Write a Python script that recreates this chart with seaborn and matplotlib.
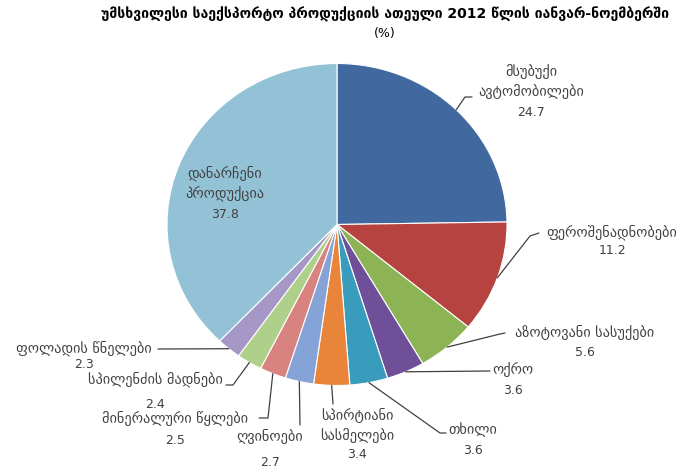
import matplotlib
matplotlib.use("Agg")
import matplotlib.pyplot as plt
from matplotlib.lines import Line2D
import numpy as np
import seaborn as sns

# ---------------- data ----------------
products = ["მსუბუქი\nავტომობილები", "ფეროშენადნობები", "აზოტოვანი სასუქები", "ოქრო",
            "თხილი", "სპირტიანი\nსასმელები", "ღვინოები", "მინერალური წყლები",
            "სპილენძის მადნები", "ფოლადის წნელები", "დანარჩენი\nპროდუქცია"]
shares = [24.7, 11.2, 5.6, 3.6, 3.6, 3.4, 2.7, 2.5, 2.4, 2.3, 37.8]
share_labels = ["24.7", "11.2", "5.6", "3.6", "3.6", "3.4", "2.7", "2.5", "2.4", "2.3", "37.8"]
slice_colors = ["#42699f", "#b6433f", "#8db454", "#6e4f98", "#3a9cbc", "#e8853a",
                "#85a3d6", "#d8837f", "#afd08a", "#a597c6", "#93c2d6"]

title = "უმსხვილესი საექსპორტო პროდუქციის ათეული 2012 წლის იანვარ-ნოემბერში"

sns.set_theme(style="white")
plt.rcParams["font.family"] = ["DejaVu Sans"]

W, H = 686, 472
fig = plt.figure(figsize=(W / 100, H / 100), dpi=100)

def px(x, y):
    return x / W, 1 - y / H

# pie occupies a slightly stretched box like the original
cx, cy, rx, ry = 337, 224.5, 170, 161
ax = fig.add_axes([(cx - rx) / W, 1 - (cy + ry) / H, 2 * rx / W, 2 * ry / H])
wedges, _ = ax.pie(shares, colors=sns.color_palette(slice_colors), startangle=90,
                   counterclock=False, radius=1,
                   wedgeprops=dict(edgecolor="white", linewidth=0.8))
ax.set_aspect("auto")
ax.set_xlim(-1, 1)
ax.set_ylim(-1, 1)
ax.axis("off")

fig.text(*px(101, 14), title, ha="left", va="center",
         fontsize=10.1, fontweight="bold", color="black")
fig.text(*px(385, 34), "(%)", ha="center", va="center", fontsize=9, color="black")

# label layout: x centre, name y, value y, leader points after the wedge anchor (pixels)
text_x = [531, 612, 585, 513, 473, 357, 270, 175, 155, 84, 225]
name_y = [81.5, 232, 332, 370, 430, 425.5, 437, 419, 379, 348, 184]
value_y = [113, 250, 352, 390, 450, 455, 463, 440, 404, 365, 215]
leaders = [[(465, 97), (472, 97)],
           [(530, 236), (539, 233)],
           [(500, 334), (505, 333)],
           [(490, 371)],
           [(440, 433), (446, 433)],
           [(333, 404)],
           [(300, 425)],
           [(268, 418), (259, 418)],
           [(233, 385), (226, 385)],
           [(158, 349)],
           None]

for w, name, val, tx, ny, vy, pts in zip(wedges, products, share_labels,
                                         text_x, name_y, value_y, leaders):
    ang = np.deg2rad((w.theta1 + w.theta2) / 2)
    ax_x, ax_y = cx + rx * np.cos(ang), cy - ry * np.sin(ang)
    fig.text(*px(tx, ny), name, ha="center", va="center", multialignment="center",
             fontsize=10.3, color="#404040", linespacing=1.5)
    fig.text(*px(tx, vy), val, ha="center", va="center", fontsize=9, color="#404040")
    if pts is not None:
        xs = [ax_x] + [p[0] for p in pts]
        ys = [ax_y] + [p[1] for p in pts]
        fig.add_artist(Line2D([x / W for x in xs], [1 - y / H for y in ys],
                              transform=fig.transFigure, color="#404040", linewidth=0.9))

fig.savefig("out.png", dpi=100)
